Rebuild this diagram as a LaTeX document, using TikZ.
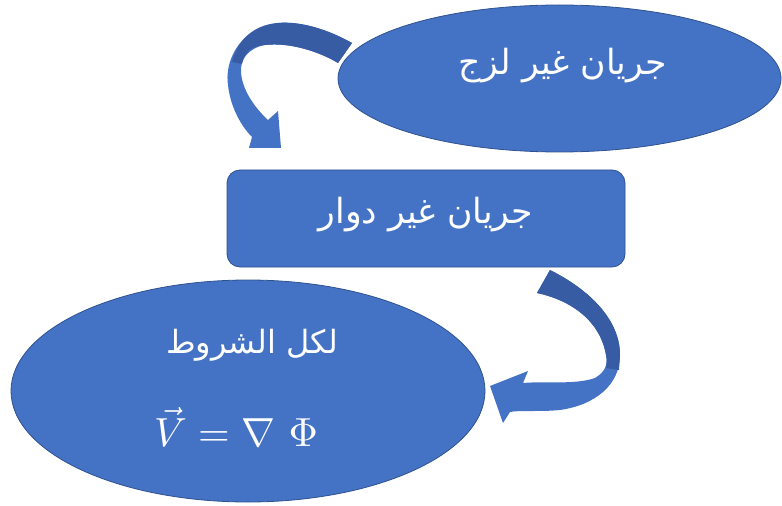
\documentclass[tikz,border=0pt]{standalone}
\usepackage{graphicx}
\usepackage{fontspec}
\newfontfamily\arabicfont[Script=Arabic]{DejaVu Sans}
\TeXXeTstate=1
\usetikzlibrary{shapes.geometric}
\definecolor{boxblue}{HTML}{4472C4}
\definecolor{edgeblue}{HTML}{2F528F}
\definecolor{arrowback}{HTML}{375CA3}

\begin{document}
\begin{tikzpicture}[x=0.75pt,y=-0.75pt,
  blob/.style={ellipse, fill=boxblue, draw=edgeblue, line width=0.6pt, inner sep=0pt},
  card/.style={rectangle, rounded corners=9.75pt, fill=boxblue, draw=edgeblue, line width=0.6pt, inner sep=0pt},
  artext/.style={text=white, inner sep=0pt, font=\arabicfont\fontsize{26}{30}\selectfont},
  mathtext/.style={text=white, inner sep=0pt},
  arrowfront/.style={fill=boxblue},
  arrowrear/.style={fill=arrowback}]
\useasboundingbox (0,0) rectangle (782,506);

% shapes
\node[blob, minimum width=332.25pt, minimum height=110.25pt] (inviscid) at (559.5,78.5) {};
\node[card, minimum width=298.5pt, minimum height=72.75pt] (irrot) at (426,218.5) {};
\node[blob, minimum width=355.5pt, minimum height=166.5pt] (general) at (248,391) {};

% texts
\node[artext] (tInviscid) at (563,66) {\beginR جريان غير لزج\endR};
\node[artext] (tIrrot) at (426,215) {\beginR جريان غير دوار\endR};
\node[artext, font=\arabicfont\fontsize{24}{28}\selectfont] (tGeneral) at (252,345) {\beginR لكل الشروط\endR};
\node[mathtext] (tPotential) at (236,427) {\scalebox{3.05}{$\vec{V} = \nabla\ \Phi$}};

% curved arrow from the upper ellipse down to the box
\coordinate (tailA) at (345,53);
\coordinate (tipA) at (281,148);
\fill[arrowfront] (352,43) .. controls (320,25) and (280,15) .. (255,30)
  .. controls (235,42) and (225,65) .. (228,85)
  .. controls (230,105) and (240,125) .. (252,137)
  -- (249,148) -- (tipA) -- (278,111) -- (268,120)
  .. controls (255,108) and (242,90) .. (241,72)
  .. controls (240,60) and (248,48) .. (265,45)
  .. controls (290,42) and (320,52) .. (338,63) -- cycle;
\fill[arrowrear] (352,43) .. controls (320,25) and (280,15) .. (255,30)
  .. controls (243,37) and (236,48) .. (232,62) -- (242,64)
  .. controls (244,52) and (252,46) .. (265,45)
  .. controls (290,42) and (320,52) .. (338,63) -- cycle;

% curved arrow from the box round to the lower ellipse
\coordinate (tailB) at (544,282);
\coordinate (tipB) at (490,386);
\fill[arrowfront] (550,270) .. controls (590,290) and (620,320) .. (620,355)
  .. controls (620,385) and (595,405) .. (560,410)
  .. controls (540,412) and (520,410) .. (510,412)
  -- (503,423) -- (tipB) -- (528,371) -- (523,383)
  .. controls (545,381) and (575,385) .. (595,378)
  .. controls (605,372) and (608,365) .. (606,355)
  .. controls (600,320) and (570,300) .. (537,293) -- cycle;
\fill[arrowrear] (550,270) .. controls (590,290) and (620,320) .. (620,355)
  -- (619,370) -- (606,368)
  .. controls (607,363) and (607,359) .. (606,355)
  .. controls (600,320) and (570,300) .. (537,293) -- cycle;
\end{tikzpicture}
\end{document}
